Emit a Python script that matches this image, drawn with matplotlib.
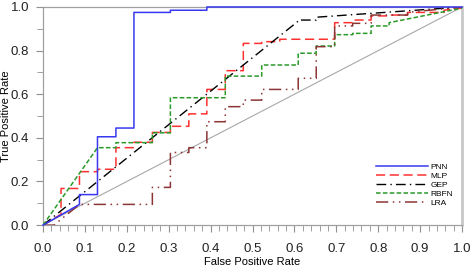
import matplotlib
matplotlib.use("Agg")
import matplotlib.pyplot as plt
from matplotlib.ticker import MultipleLocator

plt.rcParams['font.family'] = ['Liberation Sans', 'DejaVu Sans']

# ROC curve vertices
pnn_x = [0, 0.087, 0.087, 0.130, 0.130, 0.174, 0.174, 0.217, 0.217, 0.304, 0.304, 0.391, 0.391, 1.0]
pnn_y = [0, 0.095, 0.140, 0.140, 0.405, 0.405, 0.445, 0.445, 0.975, 0.975, 0.985, 0.985, 1.0, 1.0]

mlp_x = [0, 0.043, 0.043, 0.087, 0.087, 0.130, 0.130, 0.174, 0.174, 0.217, 0.217, 0.261, 0.261,
         0.304, 0.304, 0.348, 0.348, 0.391, 0.391, 0.435, 0.435, 0.478, 0.478, 0.522, 0.522,
         0.565, 0.565, 0.696, 0.696, 0.739, 0.739, 0.783, 0.783, 0.826, 0.826, 0.870, 0.870,
         0.957, 0.957, 1.0]
mlp_y = [0, 0.050, 0.168, 0.168, 0.245, 0.245, 0.256, 0.256, 0.355, 0.355, 0.380, 0.380, 0.425,
         0.425, 0.453, 0.453, 0.510, 0.510, 0.622, 0.622, 0.708, 0.708, 0.833, 0.833, 0.841,
         0.841, 0.852, 0.852, 0.928, 0.928, 0.940, 0.940, 0.959, 0.959, 0.963, 0.963, 0.975,
         0.975, 0.985, 0.995]

gep_x = [0, 0.609, 0.609, 0.652, 0.652, 1.0]
gep_y = [0, 0.935, 0.940, 0.940, 0.953, 1.0]

rbfn_x = [0, 0.130, 0.174, 0.174, 0.261, 0.261, 0.304, 0.304, 0.435, 0.435, 0.522, 0.522,
          0.609, 0.609, 0.652, 0.652, 0.696, 0.696, 0.739, 0.739, 0.783, 0.783, 0.826, 0.826, 1.0]
rbfn_y = [0, 0.355, 0.355, 0.378, 0.378, 0.423, 0.423, 0.584, 0.584, 0.683, 0.683, 0.734,
          0.734, 0.788, 0.788, 0.821, 0.821, 0.873, 0.873, 0.879, 0.879, 0.913, 0.913, 0.928, 0.995]

lra_x = [0, 0.026, 0.087, 0.261, 0.261, 0.304, 0.304, 0.348, 0.348, 0.391, 0.391, 0.435, 0.435,
         0.478, 0.478, 0.522, 0.522, 0.609, 0.609, 0.652, 0.652, 0.696, 0.696, 0.739, 0.739,
         0.783, 0.783, 0.870, 0.870, 1.0]
lra_y = [0, 0, 0.095, 0.095, 0.173, 0.173, 0.333, 0.333, 0.355, 0.355, 0.474, 0.474, 0.543,
         0.543, 0.573, 0.573, 0.622, 0.622, 0.673, 0.673, 0.818, 0.818, 0.913, 0.913, 0.925,
         0.925, 0.963, 0.963, 0.975, 1.0]

fig = plt.figure(figsize=(4.71, 2.68), dpi=100)
ax = fig.add_axes([0.0913, 0.160, 0.8897, 0.814])

ax.plot([0, 1], [0, 1], color='#a8a8a8', lw=0.8)
ax.plot(pnn_x, pnn_y, color='#3838f0', lw=1.1, label='PNN', zorder=4, clip_on=False)
ax.plot(mlp_x, mlp_y, color='#ff3030', lw=1.1, ls=(0, (6, 3)), label='MLP', zorder=3)
ax.plot(gep_x, gep_y, color='black', lw=1.0, ls=(0, (7, 3, 1, 3)), label='GEP', zorder=3)
ax.plot(rbfn_x, rbfn_y, color='#2a9a2a', lw=1.1, ls=(0, (3, 1.5)), label='RBFN', zorder=3)
ax.plot(lra_x, lra_y, color='#8b3535', lw=1.1, ls=(0, (8, 3, 1, 3, 1, 3)), label='LRA', zorder=3)

ax.set_xlim(0, 1)
ax.set_ylim(0, 1)
ax.xaxis.set_major_locator(MultipleLocator(0.1))
ax.xaxis.set_minor_locator(MultipleLocator(0.02))
ax.yaxis.set_major_locator(MultipleLocator(0.2))
ax.yaxis.set_minor_locator(MultipleLocator(0.1))
ax.xaxis.set_major_formatter(plt.FormatStrFormatter('%.1f'))
ax.yaxis.set_major_formatter(plt.FormatStrFormatter('%.1f'))
ax.tick_params(which='both', direction='out', color='#909090', labelcolor='#222222')
ax.tick_params(which='major', length=5, width=0.8, labelsize=9.5)
ax.tick_params(which='minor', length=4, width=0.6)
ax.tick_params(axis='x', which='major', pad=8)
ax.tick_params(axis='y', which='major', pad=5)
for side in ['left', 'bottom', 'top']:
    ax.spines[side].set_color('#a0a0a0')
    ax.spines[side].set_linewidth(0.9)
ax.spines['right'].set_color('#c8c8c8')
ax.spines['right'].set_linewidth(2.0)

ax.set_xlabel('False Positive Rate', fontsize=8)
ax.set_ylabel('True Positive Rate', fontsize=8)
ax.xaxis.set_label_coords(0.5, -0.148)
ax.yaxis.set_label_coords(-0.076, 0.5)

ax.legend(loc='lower left', bbox_to_anchor=(0.78, 0.055), frameon=False, fontsize=6,
          handlelength=6.3, labelspacing=0.15, handletextpad=0.3, borderpad=0.2)

fig.savefig('out.png', dpi=100)
